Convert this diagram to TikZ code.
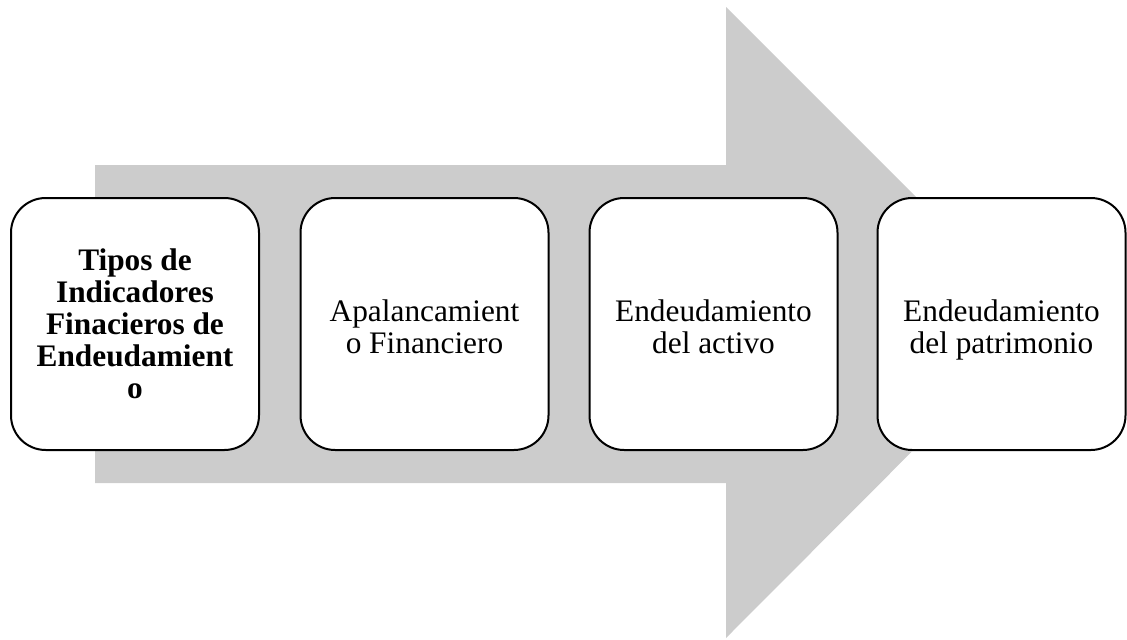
\documentclass[tikz,border=0pt]{standalone}
\usepackage{fontspec}
\setmainfont{Liberation Serif}

\begin{document}
\begin{tikzpicture}[x=0.75pt,y=-0.75pt,
  box/.style={draw,line width=1.5pt,rounded corners=26pt,fill=white,
    minimum width=186pt,minimum height=189pt,inner sep=0pt,align=center,
    font=\fontsize{23.5}{24}\selectfont},
  plainbox/.style={box,text height=44pt,text depth=0pt}]
  \useasboundingbox (0,0) rectangle (1127,639);
  % big grey arrow behind the boxes
  \fill[black!20] (95,165) -- (726,165) -- (726,7) -- (1041,322)
    -- (726,638) -- (726,483) -- (95,483) -- cycle;
  \node[box] (b1) at (135,324) {\textbf{Tipos de}\\\textbf{Indicadores}\\\textbf{Finacieros de}\\\textbf{Endeudamient}\\\textbf{o}};
  \node[plainbox] (b2) at (424.5,324) {Apalancamient\\o Financiero};
  \node[plainbox] (b3) at (713.5,324) {Endeudamiento\\del activo};
  \node[plainbox] (b4) at (1001.5,324) {Endeudamiento\\del patrimonio};
\end{tikzpicture}
\end{document}
